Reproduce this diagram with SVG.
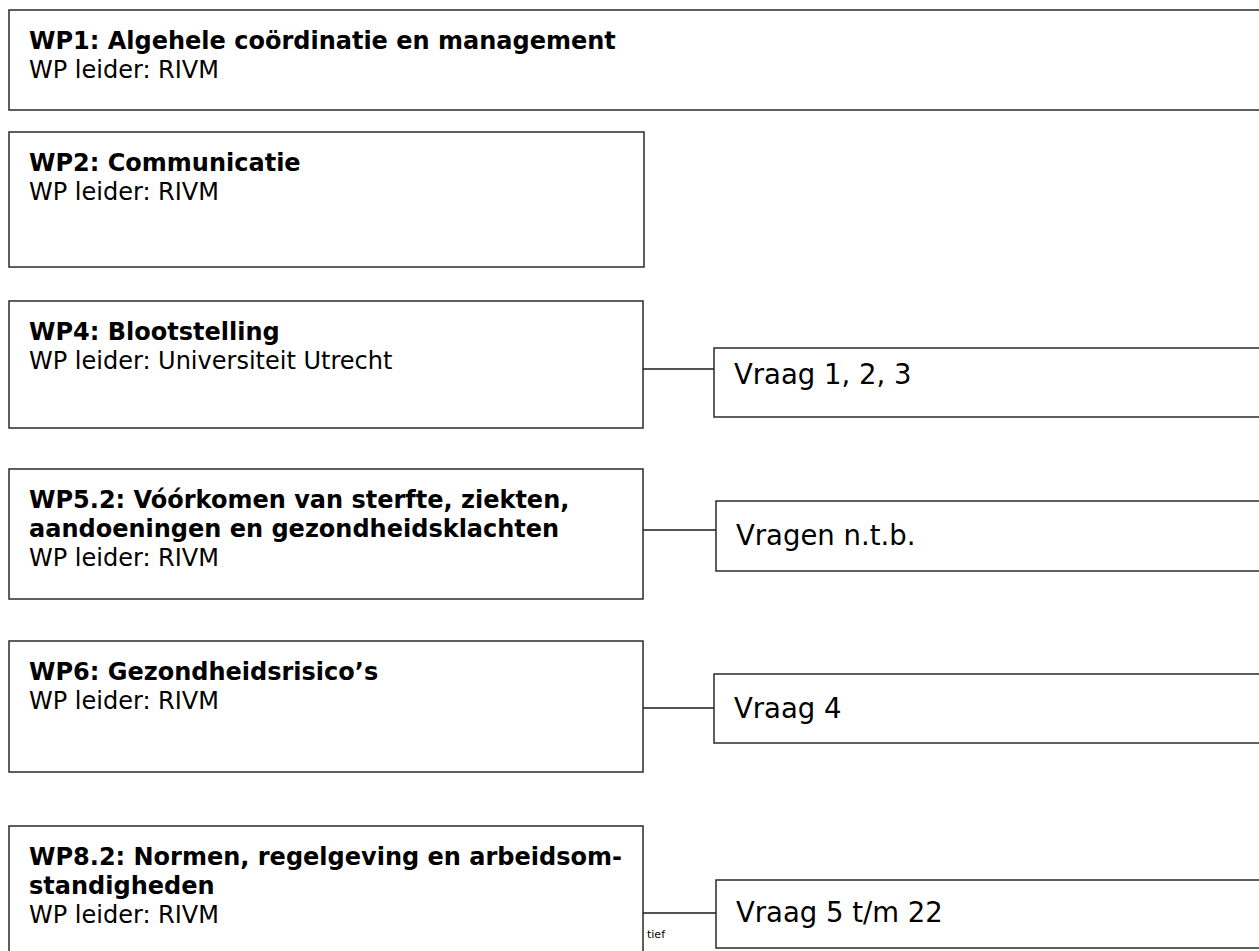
<svg xmlns="http://www.w3.org/2000/svg" width="1259" height="951" viewBox="0 0 1259 951">
<style>
.box{fill:#fff;stroke:#2a2a2a;stroke-width:1.5}
.t{font-family:"DejaVu Sans",Verdana,sans-serif;font-weight:bold;font-size:24px;fill:#000}
.r{font-family:"DejaVu Sans",Verdana,sans-serif;font-size:24px;fill:#000}
.q{font-family:"DejaVu Sans",Verdana,sans-serif;font-size:27.5px;fill:#000}
.s{font-family:"DejaVu Sans",Verdana,sans-serif;font-size:11px;fill:#000}
.c{stroke:#1a1a1a;stroke-width:1.5;fill:none}
</style>
<rect width="1259" height="951" fill="#fff"/>
<g id="connectors">
<line class="c" x1="643" y1="369" x2="714" y2="369"/>
<line class="c" x1="643" y1="530" x2="716" y2="530"/>
<line class="c" x1="643" y1="708" x2="714" y2="708"/>
<line class="c" x1="643" y1="913" x2="716" y2="913"/>
<text class="s" x="647" y="938">tief</text>
</g>
<g id="wp1">
<rect class="box" x="9" y="10" width="1270" height="100"/>
<text class="t" x="29" y="48.5">WP1: Algehele coördinatie en management</text>
<text class="r" x="29" y="77.5">WP leider: RIVM</text>
</g>
<g id="wp2">
<rect class="box" x="9" y="132" width="635" height="135"/>
<text class="t" x="29" y="170.5">WP2: Communicatie</text>
<text class="r" x="29" y="199.5">WP leider: RIVM</text>
</g>
<g id="wp4">
<rect class="box" x="9" y="301" width="634" height="127"/>
<text class="t" x="29" y="339.5">WP4: Blootstelling</text>
<text class="r" x="29" y="368.5">WP leider: Universiteit Utrecht</text>
</g>
<g id="q123">
<rect class="box" x="714" y="348" width="560" height="69"/>
<text class="q" x="734" y="384">Vraag 1, 2, 3</text>
</g>
<g id="wp52">
<rect class="box" x="9" y="469" width="634" height="130"/>
<text class="t" x="29" y="507.5">WP5.2: Vóórkomen van sterfte, ziekten,</text>
<text class="t" x="29" y="536.5">aandoeningen en gezondheidsklachten</text>
<text class="r" x="29" y="565.5">WP leider: RIVM</text>
</g>
<g id="qntb">
<rect class="box" x="716" y="501" width="560" height="70"/>
<text class="q" x="736" y="545">Vragen n.t.b.</text>
</g>
<g id="wp6">
<rect class="box" x="9" y="641" width="634" height="131"/>
<text class="t" x="29" y="679.5">WP6: Gezondheidsrisico’s</text>
<text class="r" x="29" y="708.5">WP leider: RIVM</text>
</g>
<g id="q4">
<rect class="box" x="714" y="674" width="560" height="69"/>
<text class="q" x="734" y="718">Vraag 4</text>
</g>
<g id="wp82">
<rect class="box" x="9" y="826" width="634" height="140"/>
<text class="t" x="29" y="864.5">WP8.2: Normen, regelgeving en arbeidsom-</text>
<text class="t" x="29" y="893.5">standigheden</text>
<text class="r" x="29" y="922.5">WP leider: RIVM</text>
</g>
<g id="q522">
<rect class="box" x="716" y="880" width="560" height="68"/>
<text class="q" x="736" y="922">Vraag 5 t/m 22</text>
</g>
</svg>
